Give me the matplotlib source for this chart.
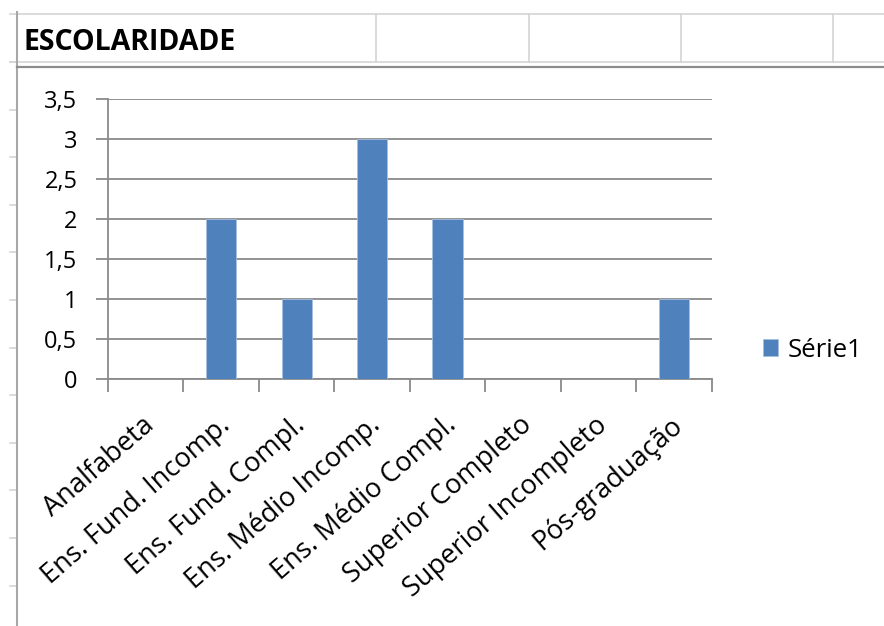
import numpy as np
import matplotlib
matplotlib.use("Agg")
import matplotlib.pyplot as plt
import matplotlib.transforms as mtransforms
from matplotlib.lines import Line2D

# Data
categories = ["Analfabeta", "Ens. Fund. Incomp.", "Ens. Fund. Compl.",
              "Ens. Médio Incomp.", "Ens. Médio Compl.", "Superior Completo",
              "Superior Incompleto", "Pós-graduação"]
values = [0, 2, 1, 3, 2, 0, 0, 1]
series_name = "Série1"
title = "ESCOLARIDADE"
y_ticks = [0, 0.5, 1, 1.5, 2, 2.5, 3, 3.5]
y_tick_labels = ["0", "0,5", "1", "1,5", "2", "2,5", "3", "3,5"]

plt.rcParams["font.family"] = ["Open Sans", "DejaVu Sans"]

W, H = 884, 626
fig = plt.figure(figsize=(W / 100, H / 100), dpi=100)
fig.patch.set_facecolor("white")


def fx(px):
    return px / W


def fy(py):
    return 1 - py / H


def hline(y, x0, x1, color, lw):
    fig.add_artist(Line2D([fx(x0), fx(x1)], [fy(y), fy(y)], color=color,
                          lw=lw, transform=fig.transFigure))


def vline(x, y0, y1, color, lw):
    fig.add_artist(Line2D([fx(x), fx(x)], [fy(y0), fy(y1)], color=color,
                          lw=lw, transform=fig.transFigure))


# Spreadsheet cells around the chart
cell_grey = "#d4d4d4"
hline(14, 10, W, cell_grey, 1.2)
hline(62, 10, W, cell_grey, 1.2)
for cx in [376, 529, 681, 833]:
    vline(cx, 14, 62, cell_grey, 1.2)
for k in range(12):
    ry = 62 + 47.6 * k
    hline(ry, 10, 17, cell_grey, 1.2)
vline(17, 12, H, "#a8a8a8", 1.5)
hline(66.5, 17, W, "#8c8c8c", 1.6)

fig.text(fx(24), fy(50), title, fontsize=20.5, fontweight="bold",
         color="black", va="baseline", ha="left")

# Chart
ax = fig.add_axes([fx(108), fy(378.5), fx(711.5) - fx(108), fy(99.3) - fy(378.5)])
x = np.arange(len(categories)) + 0.5
bars = ax.bar(x, values, width=0.4, color="#4F81BD", edgecolor="#a7bfdf",
              linewidth=0.6, zorder=3, label=series_name)

ax.set_xlim(0, len(categories))
ax.set_ylim(0, 3.5)

grid_grey = "#8a8a8a"
ax.set_yticks(y_ticks)
ax.set_yticklabels(y_tick_labels)
ax.yaxis.grid(True, color=grid_grey, lw=1.3, zorder=0)
ax.set_axisbelow(True)
for side in ["top", "right"]:
    ax.spines[side].set_visible(False)
for side in ["left", "bottom"]:
    ax.spines[side].set_color(grid_grey)
    ax.spines[side].set_linewidth(1.3)

ax.tick_params(axis="y", direction="out", length=9, width=1.3, color=grid_grey,
               pad=13, labelsize=17, labelcolor="black")

ax.set_xticks(x)
ax.set_xticklabels(categories, rotation=41, ha="right", va="baseline",
                   rotation_mode="anchor")
ax.set_xticks(np.arange(len(categories) + 1), minor=True)
ax.tick_params(axis="x", which="major", length=0, pad=35, labelsize=19.5,
               labelcolor="black")
ax.tick_params(axis="x", which="minor", direction="out", length=9.5,
               width=1.3, color=grid_grey)

# nudge the rotated category labels slightly to the right of each centre
shift = mtransforms.ScaledTranslation(7 / 72, 0, fig.dpi_scale_trans)
for lbl in ax.get_xticklabels():
    lbl.set_transform(lbl.get_transform() + shift)

ax.legend(handles=[bars], labels=[series_name], loc="center left",
          bbox_to_anchor=(fx(763), fy(350)), bbox_transform=fig.transFigure,
          frameon=False, fontsize=18.5, borderpad=0, borderaxespad=0,
          handlelength=0.6, handleheight=0.6, handletextpad=0.35)

fig.savefig("out.png", dpi=100, facecolor="white")
